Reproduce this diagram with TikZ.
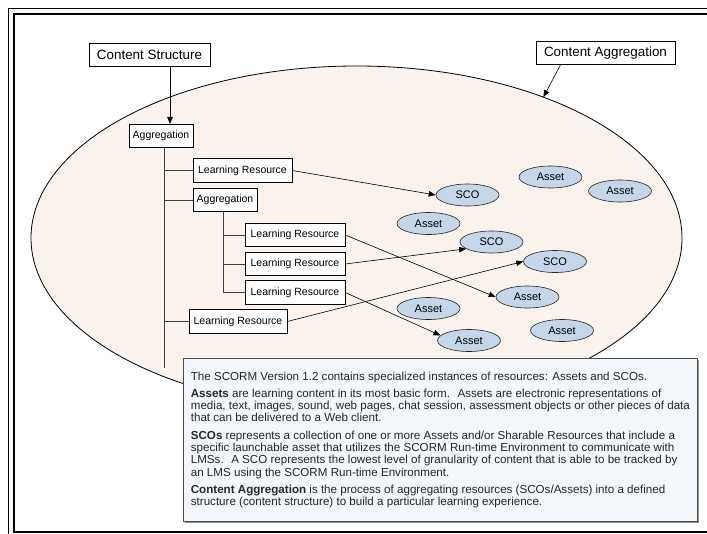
\documentclass[tikz,border=0pt]{standalone}
\usepackage{fontspec}
\setmainfont{Liberation Sans}
\usetikzlibrary{arrows.meta,positioning,calc,shapes.geometric,shadows}
\definecolor{aggfill}{HTML}{FAF2EC}
\definecolor{resfill}{HTML}{C5D6E8}
\definecolor{notefill}{HTML}{F3F6FA}

\begin{document}
\begin{tikzpicture}[x=1pt,y=-1pt,>={Triangle[length=7pt,width=5.5pt]},
 tag/.style={draw,fill=white,line width=.6pt,inner sep=0pt,minimum height=23pt,font=\fontsize{13.4}{15}\selectfont},
 unit/.style={draw,fill=white,line width=.6pt,inner sep=0pt,minimum width=64pt,minimum height=23.5pt,font=\fontsize{10.5}{12}\selectfont},
 res/.style={ellipse,draw=black!85,fill=resfill,line width=.6pt,inner sep=0pt,minimum width=63pt,minimum height=22pt,font=\fontsize{11}{12}\selectfont},
 link/.style={->,line width=.6pt},tree/.style={draw=black!75,line width=.7pt},
 note/.style={draw=black!70,fill=notefill,line width=.8pt,align=left,inner sep=0pt,minimum width=514pt,minimum height=163pt,
  font=\fontsize{11.6}{12.3}\selectfont,text=black!85,drop shadow={shadow xshift=2pt,shadow yshift=-2pt,fill=black!45,opacity=1}}]
\useasboundingbox (0,0) rectangle (707,533);
\clip (0,0) rectangle (707,533);
\draw[line width=1.5pt] (8.5,8.5) rectangle (740,545);
\draw[line width=2pt] (14,14) rectangle (730,531.5);

\node[ellipse,draw,fill=aggfill,line width=.8pt,minimum width=651pt,minimum height=344pt,inner sep=0pt,outer sep=0pt] (cagg) at (356.5,238) {};
\node[tag,minimum width=121pt] (cs) at (149.5,55) {Content Structure};
\node[tag,minimum width=139pt] (ca) at (605.5,53) {Content Aggregation};

\node[unit] (ag1) at (161,136) {Aggregation};
\node[unit,minimum width=99pt] (lr1) at (242.5,170.5) {Learning Resource};
\node[unit] (ag2) at (225,200) {Aggregation};
\node[unit,minimum width=100pt] (lr2) at (295,235) {Learning Resource};
\node[unit,minimum width=100pt] (lr3) at (295,264) {Learning Resource};
\node[unit,minimum width=100pt] (lr4) at (295,292.5) {Learning Resource};
\node[unit,minimum width=98pt] (lr5) at (238,321.5) {Learning Resource};
\coordinate (t1) at (164,368);
\coordinate (t2) at (223,293);

\node[res] (sco1) at (467.5,195) {SCO};
\node[res] (a1) at (550.5,177) {Asset};
\node[res] (a2) at (620,191) {Asset};
\node[res] (a3) at (428.5,223.5) {Asset};
\node[res] (sco2) at (491.5,242) {SCO};
\node[res] (sco3) at (555,261.5) {SCO};
\node[res] (a4) at (527.5,297) {Asset};
\node[res] (a5) at (428.5,308.5) {Asset};
\node[res] (a6) at (469,340.5) {Asset};
\node[res] (a7) at (562,330.5) {Asset};

\draw[tree] (ag1.south -| t1)--(t1);
\draw[tree] (t1 |- lr1.west)--(lr1.west);
\draw[tree] (t1 |- ag2.west)--(ag2.west);
\draw[tree] (t1 |- lr5.west)--(lr5.west);
\draw[tree] (ag2.south -| t2)--(t2);
\draw[tree] (t2 |- lr2.west)--(lr2.west);
\draw[tree] (t2 |- lr3.west)--(lr3.west);
\draw[tree] (t2 |- lr4.west)--(lr4.west);

\draw[link] ([xshift=20.5pt]cs.south)--([xshift=9pt]ag1.north);
\draw[link] ([xshift=-45pt]ca.south)--(cagg.37);
\draw[link] (lr1.east)--(sco1.west);
\draw[link] (lr2.east)--(a4.west);
\draw[link] (lr3.east)--(sco2.195);
\draw[link] (lr4.east)--(a6.170);
\draw[link] (lr5.east)--(sco3.west);

\node[note,anchor=north west] (txt) at (183,358) {The SCORM Version 1.2 contains specialized instances of resources: Assets and SCOs.\\[5pt]
\textbf{Assets} are learning content in its most basic form.~ Assets are electronic representations of\\
media, text, images, sound, web pages, chat session, assessment objects or other pieces of data\\
that can be delivered to a Web client.\\[5pt]
\textbf{SCOs} represents a collection of one or more Assets and/or Sharable Resources that include a\\
specific launchable asset that utilizes the SCORM Run-time Environment to communicate with\\
LMSs.~ A SCO represents the lowest level of granularity of content that is able to be tracked by\\
an LMS using the SCORM Run-time Environment.\\[5pt]
\textbf{Content Aggregation} is the process of aggregating resources (SCOs/Assets) into a defined\\
structure (content structure) to build a particular learning experience.};
\end{tikzpicture}
\end{document}
